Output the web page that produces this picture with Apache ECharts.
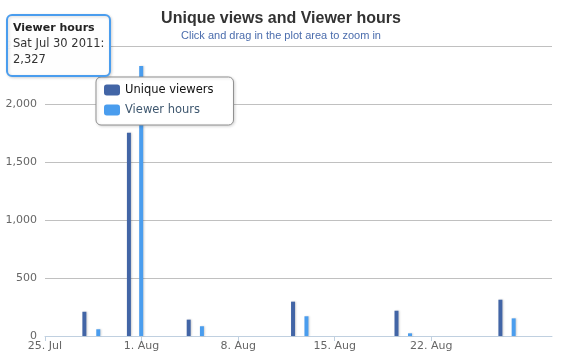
<!DOCTYPE html>
<html>
<head>
<meta charset="utf-8">
<script src="https://cdn.jsdelivr.net/npm/echarts@6/dist/echarts.min.js"></script>
<style>
html,body{margin:0;padding:0;background:#fff;}
#chart{width:562px;height:360px;}
</style>
</head>
<body>
<div id="chart"></div>
<script>
// ---- data ----
const seriesNames = ['Unique viewers', 'Viewer hours'];
const uniqueDates = ['2011-07-27T20:30', '2011-07-31T02:00', '2011-08-04T10:00', '2011-08-11T23:30', '2011-08-19T11:30', '2011-08-27T00:15'];
const uniqueViewers = [209, 1753, 141, 296, 218, 313];
const hourDates = ['2011-07-28T20:40', '2011-07-31T23:20', '2011-08-05T09:00', '2011-08-12T22:50', '2011-08-20T11:00', '2011-08-27T23:20'];
const viewerHours = [58, 2327, 84, 170, 23, 152];
const xTickLabels = ['25. Jul', '1. Aug', '8. Aug', '15. Aug', '22. Aug'];
const yTickLabels = ['0', '500', '1,000', '1,500', '2,000', '2,500'];
const tooltipLines = ['Viewer hours', 'Sat Jul 30 2011:', '2,327'];

const DAY = 86400000;
const day0 = Date.parse('2011-07-25T00:00Z');
const toDay = s => (Date.parse(s + 'Z') - day0) / DAY;
const darkData = uniqueDates.map((d, i) => [toDay(d), uniqueViewers[i]]);
const lightData = hourDates.map((d, i) => [toDay(d), viewerHours[i]]);
const xTicks = xTickLabels.map((_, i) => i * 7);

const darkColor = '#4265a6';
const lightColor = '#4a9dee';
const font = 'DejaVu Sans';

const chart = echarts.init(document.getElementById('chart'), null, {renderer: 'canvas'});
chart.setOption({
  animation: false,
  backgroundColor: '#ffffff',
  title: [
    {text: 'Unique views and Viewer hours', left: 'center', top: 6,
     textStyle: {fontFamily: 'Liberation Sans', fontSize: 16, fontWeight: 'bold', color: '#333333'}},
    {text: 'Click and drag in the plot area to zoom in', left: 'center', top: 25,
     textStyle: {fontFamily: 'Liberation Sans', fontSize: 11, fontWeight: 'normal', color: '#4b6dad'}}
  ],
  grid: {left: 45, right: 10, top: 46, bottom: 24, containLabel: false},
  legend: {
    orient: 'vertical', left: 96, top: 77,
    padding: [6, 20, 8, 8], itemGap: 6,
    itemWidth: 16, itemHeight: 11, icon: 'roundRect',
    backgroundColor: '#ffffff', borderColor: '#909090', borderWidth: 1, borderRadius: 5,
    shadowColor: 'rgba(0,0,0,0.15)', shadowBlur: 3, shadowOffsetX: 1, shadowOffsetY: 1,
    textStyle: {fontFamily: font, fontSize: 11.5, lineHeight: 14, color: '#111111'},
    data: [
      {name: seriesNames[0], textStyle: {color: '#111111'}},
      {name: seriesNames[1], textStyle: {color: '#3e576f'}}
    ],
    z: 10
  },
  xAxis: {
    type: 'value', min: 0, max: 36.75,
    axisLine: {show: true, lineStyle: {color: '#c0d0e0', width: 1}},
    axisTick: {show: true, length: 5, lineStyle: {color: '#c0d0e0'}, customValues: xTicks},
    axisLabel: {customValues: xTicks, margin: 5, fontFamily: font, fontSize: 11, color: '#666666',
      formatter: v => xTickLabels[Math.round(v / 7)] || ''},
    splitLine: {show: false}
  },
  yAxis: {
    type: 'value', min: 0, max: 2500, interval: 500,
    axisLine: {show: false}, axisTick: {show: false},
    axisLabel: {margin: 8, fontFamily: font, fontSize: 11, color: '#666666',
      formatter: v => yTickLabels[Math.round(v / 500)]},
    splitLine: {lineStyle: {color: '#c0c0c0', width: 1}}
  },
  series: [
    {name: seriesNames[0], type: 'bar', data: darkData, barWidth: 4, barGap: '-100%',
     itemStyle: {color: darkColor, shadowColor: 'rgba(0,0,0,0.18)', shadowBlur: 2, shadowOffsetX: 1, shadowOffsetY: 0}},
    {name: seriesNames[1], type: 'bar', data: lightData, barWidth: 4, barGap: '-100%',
     itemStyle: {color: lightColor, shadowColor: 'rgba(0,0,0,0.18)', shadowBlur: 2, shadowOffsetX: 1, shadowOffsetY: 0}}
  ],
  graphic: [{
    type: 'group', left: 6, top: 14, z: 100,
    children: [
      {type: 'rect', shape: {x: 1, y: 1, width: 103, height: 61, r: 5}, z: 100,
       style: {fill: 'rgba(255,255,255,0.96)', stroke: lightColor, lineWidth: 2,
               shadowColor: 'rgba(0,0,0,0.15)', shadowBlur: 3, shadowOffsetX: 1, shadowOffsetY: 1}},
      {type: 'text', x: 7, y: 9, z: 101,
       style: {text: tooltipLines[0], font: 'bold 11px "DejaVu Sans"', fill: '#222222'}},
      {type: 'text', x: 7, y: 24, z: 101,
       style: {text: tooltipLines[1], font: '11.5px "DejaVu Sans"', fill: '#333333'}},
      {type: 'text', x: 7, y: 40, z: 101,
       style: {text: tooltipLines[2], font: '11.5px "DejaVu Sans"', fill: '#333333'}}
    ]
  }]
});
</script>
</body>
</html>
